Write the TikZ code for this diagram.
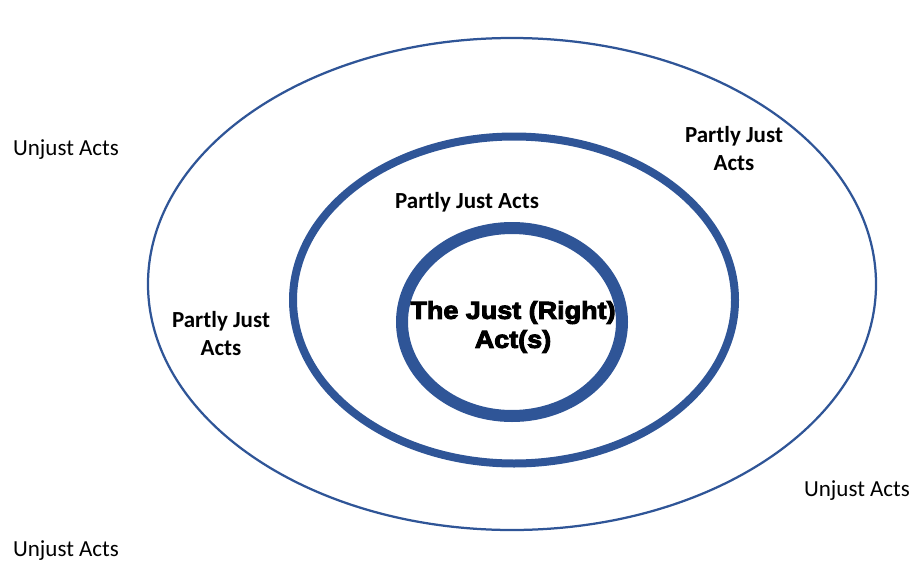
\documentclass[tikz,border=0pt]{standalone}
\usepackage{fontspec}
\setmainfont{Carlito}
\newfontfamily\blackfont[FakeBold=4,FakeStretch=1.1]{Liberation Sans Bold}
\usepackage{tikz}
\usetikzlibrary{positioning}
\definecolor{ringblue}{HTML}{2F5597}

\begin{document}
\begin{tikzpicture}[x=1pt,y=-1pt]
		\useasboundingbox (0,0) rectangle (915,562);
		\tikzset{ring/.style={draw=ringblue}}
		\tikzset{unjust/.style={font=\fontsize{23}{28}\selectfont}}
		\tikzset{partly/.style={font=\fontsize{23}{28}\selectfont\bfseries,align=center}}
		% the three rings
		\draw[ring,line width=2.25pt] (512,284) ellipse [x radius=364,y radius=246];
		\draw[ring,line width=8pt]    (514,300) ellipse [x radius=221,y radius=163.5];
		\draw[ring,line width=12pt]   (512,322) ellipse [x radius=110,y radius=94];
		% labels
		\node[unjust]  (u1) at (66,150)  {Unjust Acts};
		\node[unjust]  (u2) at (857,491) {Unjust Acts};
		\node[unjust]  (u3) at (66,551)  {Unjust Acts};
		\node[partly]  (p1) at (734,149) {Partly Just\\Acts};
		\node[partly]  (p2) at (467,202) {Partly Just Acts};
		\node[partly]  (p3) at (221,334) {Partly Just\\Acts};
		\node[align=center,font=\fontsize{24.5}{29}\blackfont] (just) at (513,327) {The Just (Right)\\Act(s)};
	\end{tikzpicture}
\end{document}
